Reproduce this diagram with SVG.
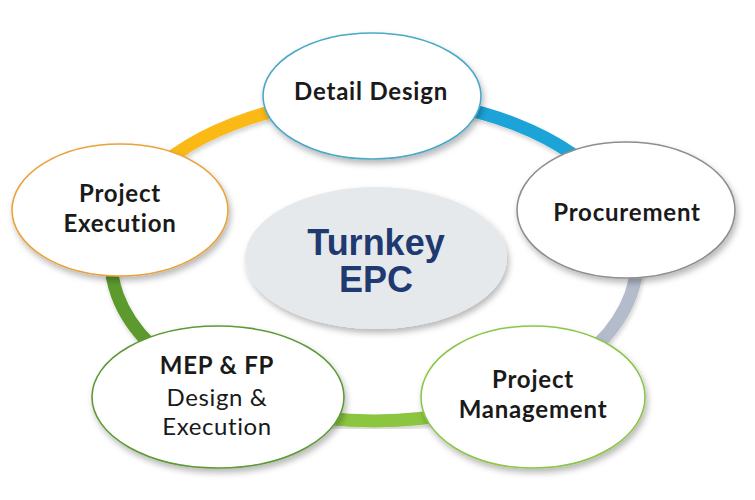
<svg xmlns="http://www.w3.org/2000/svg" width="755" height="500" viewBox="0 0 755 500">
  <defs>
    <filter id="shadow" x="-20%" y="-20%" width="140%" height="150%">
      <feDropShadow dx="2" dy="4" stdDeviation="3" flood-color="#000" flood-opacity="0.28"/>
    </filter>
    <filter id="ringShadow" x="-10%" y="-10%" width="120%" height="130%">
      <feDropShadow dx="1" dy="3" stdDeviation="2" flood-color="#000" flood-opacity="0.18"/>
    </filter>
    <style>
      .ring { fill: none; stroke-width: 13; filter: url(#ringShadow); }
      .node { fill: #ffffff; stroke-width: 1.6; filter: url(#shadow); }
      .lbl { font-family: Lato, "Open Sans", "Liberation Sans", sans-serif; font-size: 24px; font-weight: 700; letter-spacing: 0.8px; fill: #1a1a1a; text-anchor: middle; }
      .lbl-reg { font-family: Lato, "Open Sans", "Liberation Sans", sans-serif; font-size: 24px; font-weight: 400; letter-spacing: 0.6px; fill: #1a1a1a; text-anchor: middle; }
      .center { font-family: "Liberation Sans", Arial, sans-serif; font-size: 36px; font-weight: 700; fill: #1e3a70; text-anchor: middle; }
    </style>
  </defs>
  <rect width="755" height="500" fill="#ffffff"/>

  <g id="connectors">
    <path class="ring" stroke="#fbb917" d="M135.6,192 A263,161 0 0 1 374,99"/>
    <path class="ring" stroke="#1ba4d8" d="M374,99 A263,161 0 0 1 612.4,192"/>
    <path class="ring" stroke="#b4bccb" d="M612.4,192 A263,161 0 0 1 543.1,383.3"/>
    <path class="ring" stroke="#8cc63f" d="M543.1,383.3 A263,161 0 0 1 204.9,383.3"/>
    <path class="ring" stroke="#5b9a2f" d="M204.9,383.3 A263,161 0 0 1 135.6,192"/>
  </g>

  <g id="turnkey-epc">
    <ellipse cx="376" cy="258" rx="131" ry="71" fill="#e6e9ec" filter="url(#shadow)"/>
    <text class="center" x="376" y="255">Turnkey</text>
    <text class="center" x="376" y="292">EPC</text>
  </g>

  <g id="detail-design">
    <ellipse class="node" cx="372" cy="96" rx="109" ry="63" stroke="#4aa9c6"/>
    <text class="lbl" x="371" y="100">Detail Design</text>
  </g>

  <g id="procurement">
    <ellipse class="node" cx="626" cy="210" rx="109" ry="68" stroke="#8e8e8e"/>
    <text class="lbl" x="627" y="221">Procurement</text>
  </g>

  <g id="project-management">
    <ellipse class="node" cx="533" cy="397" rx="112" ry="71" stroke="#8cc64a"/>
    <text class="lbl" x="533" y="388">Project</text>
    <text class="lbl" x="533" y="418">Management</text>
  </g>

  <g id="mep-fp">
    <ellipse class="node" cx="218" cy="397" rx="126" ry="71" stroke="#5e9a38"/>
    <text class="lbl" x="217" y="374">MEP &amp; FP</text>
    <text class="lbl-reg" x="217" y="406">Design &amp;</text>
    <text class="lbl-reg" x="217" y="435">Execution</text>
  </g>

  <g id="project-execution">
    <ellipse class="node" cx="120" cy="210" rx="108" ry="66" stroke="#e9a33b"/>
    <text class="lbl" x="120" y="202">Project</text>
    <text class="lbl" x="120" y="232">Execution</text>
  </g>
</svg>
